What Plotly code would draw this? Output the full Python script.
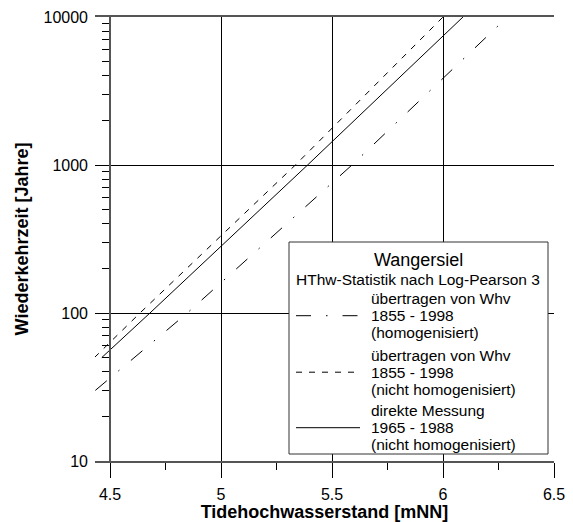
import plotly.graph_objects as go

# ---------------- data ----------------
# return period [years] vs. tidal high water level [mNN]
T_hom = [30, 100, 1000, 10000]
W_hom = [4.434, 4.848, 5.59, 6.29]          # übertragen von Whv (homogenisiert)
T_nhom = [50, 100, 1000, 10000]
W_nhom = [4.43, 4.635, 5.335, 6.0]          # übertragen von Whv (nicht homogenisiert)
T_dir = [50, 100, 1000, 10000]
W_dir = [4.463, 4.68, 5.39, 6.09]           # direkte Messung

series_labels = [
    ["übertragen von Whv", "1855 - 1998", "(homogenisiert)"],
    ["übertragen von Whv", "1855 - 1998", "(nicht homogenisiert)"],
    ["direkte Messung", "1965 - 1988", "(nicht homogenisiert)"],
]
legend_title = "Wangersiel"
legend_subtitle = "HThw-Statistik nach Log-Pearson 3"

x_ticks = [4.5, 5, 5.5, 6, 6.5]
x_tick_labels = ["4.5", "5", "5.5", "6", "6.5"]
y_ticks = [10, 100, 1000, 10000]
y_tick_labels = ["10", "100", "1000", "10000"]
y_minor = [m * 10 ** k for k in (1, 2, 3) for m in range(2, 10)]
x_minor = [(a + b) / 2 for a, b in zip(x_ticks[:-1], x_ticks[1:])]

x_title = "Tidehochwasserstand [mNN]"
y_title = "Wiederkehrzeit [Jahre]"

# ---------------- styling / layout ----------------
W, H = 573, 522
ML, MR, MT, MB = 95, 19, 17, 61
FONT = "Liberation Sans, Arial, sans-serif"
GRID = "black"
AXL = "#555555"
TICK = "black"

dash_hom = "15px,15px,1.5px,15px"
dash_nhom = "6px,7px"
dashes = [dash_hom, dash_nhom, "solid"]

x_left = 4.5 - 15 * (6.5 - 4.5) / (W - MR - ML - 15)

def px_x(p):
    return (p - ML) / (W - ML - MR)

def px_y(p):
    return (H - MB - p) / (H - MT - MB)

fig = go.Figure()
for xs, ys, d in [(W_hom, T_hom, dash_hom), (W_nhom, T_nhom, dash_nhom), (W_dir, T_dir, "solid")]:
    fig.add_trace(go.Scatter(x=xs, y=ys, mode="lines",
                             line=dict(color="black", width=1, dash=d),
                             showlegend=False, hoverinfo="skip"))
# carrier trace for the inner y axis line with minor ticks
fig.add_trace(go.Scatter(x=W_dir, y=T_dir, yaxis="y2", mode="lines", opacity=0,
                         showlegend=False, hoverinfo="skip"))

fig.update_layout(
    width=W, height=H,
    margin=dict(l=ML, r=MR, t=MT, b=MB, autoexpand=False),
    paper_bgcolor="white", plot_bgcolor="white",
    font=dict(family=FONT, color="black"),
    showlegend=False,
    xaxis=dict(
        range=[x_left, 6.5], tickmode="array", tickvals=x_ticks, ticktext=x_tick_labels,
        ticks="outside", ticklen=15, tickcolor=TICK, tickwidth=1,
        showgrid=True, gridcolor=GRID, gridwidth=1,
        showline=True, linecolor=AXL, linewidth=1.5, mirror=True,
        zeroline=False, tickfont=dict(size=16), automargin=False,
        ticklabelstandoff=3,
        minor=dict(tickmode="array", tickvals=x_minor, ticks="outside", ticklen=7,
                   tickcolor=TICK, tickwidth=1, showgrid=False),
        title=dict(text=x_title, font=dict(size=18, weight="bold"), standoff=1),
    ),
    yaxis=dict(
        type="log", range=[1, 4], tickmode="array", tickvals=y_ticks, ticktext=y_tick_labels,
        ticks="", showgrid=True, gridcolor=GRID, gridwidth=1,
        showline=False, zeroline=False, tickfont=dict(size=16),
        ticklabelstandoff=6, automargin=False,
        title=dict(text=y_title, font=dict(size=18, weight="bold"), standoff=10),
    ),
    yaxis2=dict(
        type="log", range=[1, 4], overlaying="y", anchor="free",
        position=px_x(110), side="left", automargin=False,
        tickmode="array", tickvals=y_minor, ticks="outside", ticklen=7,
        tickcolor=TICK, tickwidth=1,
        showticklabels=False, showgrid=False, zeroline=False,
        showline=True, linecolor=AXL, linewidth=1.5,
    ),
)

# ---------------- legend box (drawn in paper coordinates) ----------------
shapes = [dict(type="rect", xref="paper", yref="paper",
               x0=px_x(289), x1=px_x(548), y0=px_y(454), y1=px_y(242),
               line=dict(color="#333333", width=1), fillcolor="white", layer="above")]
ann = [
    dict(text=legend_title, x=px_x(418), y=px_y(260), font=dict(size=18),
         xanchor="center", yanchor="middle"),
    dict(text=legend_subtitle, x=px_x(418), y=px_y(279), font=dict(size=15.5),
         xanchor="center", yanchor="middle"),
]
entry_top = [298.5, 355, 410.5]
line_gap = 17.2
for i, lines in enumerate(series_labels):
    for j, t in enumerate(lines):
        ann.append(dict(text=t, x=px_x(369), y=px_y(entry_top[i] + j * line_gap),
                        font=dict(size=15.5), xanchor="left", yanchor="middle"))
    ym = px_y(entry_top[i] + line_gap)
    shapes.append(dict(type="line", xref="paper", yref="paper",
                       x0=px_x(296), x1=px_x(360), y0=ym, y1=ym,
                       line=dict(color="black", width=1, dash=dashes[i]), layer="above"))
for a in ann:
    a.update(xref="paper", yref="paper", showarrow=False)
fig.update_layout(shapes=shapes, annotations=ann)

fig.write_html("out.html", config={"displayModeBar": False},
               post_script="document.body.style.margin='0';")
